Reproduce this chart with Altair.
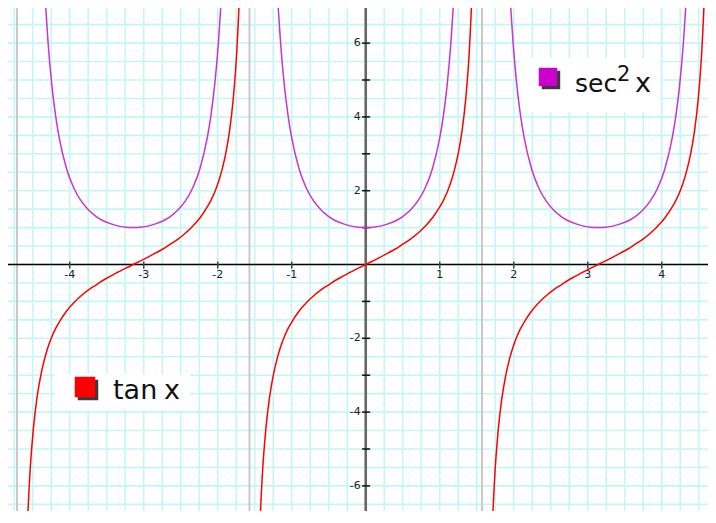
import altair as alt
import pandas as pd
import numpy as np

# ---- values ----
# tan x on one branch, offsets from branch centre
tan_offsets = [-1.45, -1.43, -1.40, -1.35, -1.30, -1.25, -1.20, -1.15, -1.10, -1.05, -1.00,
               -0.90, -0.80, -0.70, -0.60, -0.50, -0.40, -0.30, -0.20, -0.10, 0.00,
               0.10, 0.20, 0.30, 0.40, 0.50, 0.60, 0.70, 0.80, 0.90,
               1.00, 1.05, 1.10, 1.15, 1.20, 1.25, 1.30, 1.35, 1.40, 1.43, 1.45]
tan_values = [-8.24, -7.07, -5.80, -4.46, -3.60, -3.01, -2.57, -2.23, -1.96, -1.74, -1.56,
              -1.26, -1.03, -0.84, -0.68, -0.55, -0.42, -0.31, -0.20, -0.10, 0.00,
              0.10, 0.20, 0.31, 0.42, 0.55, 0.68, 0.84, 1.03, 1.26,
              1.56, 1.74, 1.96, 2.23, 2.57, 3.01, 3.60, 4.46, 5.80, 7.07, 8.24]
# sec^2 x on one branch
sec_offsets = [-1.22, -1.20, -1.18, -1.15, -1.10, -1.05, -1.00, -0.90, -0.80, -0.70, -0.60,
               -0.50, -0.40, -0.30, -0.20, -0.10, 0.00, 0.10, 0.20, 0.30, 0.40, 0.50,
               0.60, 0.70, 0.80, 0.90, 1.00, 1.05, 1.10, 1.15, 1.18, 1.20, 1.22]
sec_values = [8.47, 7.62, 6.89, 5.99, 4.86, 4.04, 3.43, 2.59, 2.06, 1.71, 1.47,
              1.30, 1.18, 1.10, 1.04, 1.01, 1.00, 1.01, 1.04, 1.10, 1.18, 1.30,
              1.47, 1.71, 2.06, 2.59, 3.43, 4.04, 4.86, 5.99, 6.89, 7.62, 8.47]
branch_centres = [-3.1416, 0.0, 3.1416]
asymptotes = [-4.7124, -1.5708, 1.5708, 4.7124]
x_ticks = [-4, -3, -2, -1, 1, 2, 3, 4]
y_ticks = [-6, -5, -4, -3, -2, -1, 1, 2, 3, 4, 5, 6]
y_labels = [-6, -4, -2, 2, 4, 6]
x_grid = [round(float(v), 2) for v in np.arange(-4.75, 4.751, 0.25)]
y_grid = [round(float(v), 2) for v in np.arange(-6.5, 7.01, 0.5)]

rows = []
for b, c in enumerate(branch_centres):
    for o, v in zip(tan_offsets, tan_values):
        rows.append({"x": c + o, "y": v, "branch": b, "f": "tan"})
    for o, v in zip(sec_offsets, sec_values):
        rows.append({"x": c + o, "y": v, "branch": b, "f": "sec"})
curves = pd.DataFrame(rows)

W, H = 700, 503
XMIN, XMAX = -4.834, 4.625
YMIN, YMAX = -6.680, 6.951

xs = alt.Scale(domain=[XMIN, XMAX], nice=False, zero=False)
ys = alt.Scale(domain=[YMIN, YMAX], nice=False, zero=False)
GRID = "#c4f6f8"

gx = alt.Chart(pd.DataFrame({"x": x_grid})).mark_rule(color=GRID, strokeWidth=1.6, clip=True).encode(
    x=alt.X("x:Q", scale=xs, axis=None), y=alt.value(0), y2=alt.value(H))
gy = alt.Chart(pd.DataFrame({"y": y_grid})).mark_rule(color=GRID, strokeWidth=1.6, clip=True).encode(
    y=alt.Y("y:Q", scale=ys, axis=None), x=alt.value(0), x2=alt.value(W))

asy = alt.Chart(pd.DataFrame({"x": asymptotes})).mark_rule(color="#c8c8c8", strokeWidth=2, clip=True).encode(
    x="x:Q", y=alt.value(0), y2=alt.value(H))

one = pd.DataFrame({"a": [0]})
boxes = alt.Chart(pd.DataFrame({"x": [512, 47], "x2": [652, 182], "y": [50, 366], "y2": [104, 402]})).mark_rect(
    color="white").encode(x=alt.X("x:Q", scale=None), x2="x2:Q", y=alt.Y("y:Q", scale=None), y2="y2:Q")

xaxis = alt.Chart(one).mark_rule(color="#000000", strokeWidth=1.5).encode(
    y=alt.datum(0), x=alt.value(0), x2=alt.value(W))
yaxis = alt.Chart(one).mark_rule(color="#666666", strokeWidth=2.6).encode(
    x=alt.datum(0), y=alt.value(0), y2=alt.value(H))

xt = alt.Chart(pd.DataFrame({"x": x_ticks})).mark_rule(color="#444444", strokeWidth=1.5).encode(
    x="x:Q", y=alt.datum(-0.11), y2=alt.datum(0.08))
yt = alt.Chart(pd.DataFrame({"y": y_ticks})).mark_rule(color="#111111", strokeWidth=1.5).encode(
    y="y:Q", x=alt.datum(-0.05), x2=alt.datum(0.06))

xl = alt.Chart(pd.DataFrame({"x": x_ticks, "t": [str(v) for v in x_ticks]})).mark_text(
    font="DejaVu Sans", fontSize=11, color="#222222", baseline="middle", align="center", dy=10
).encode(x="x:Q", y=alt.datum(0), text="t:N")
yl = alt.Chart(pd.DataFrame({"y": y_labels, "t": [str(v) for v in y_labels]})).mark_text(
    font="DejaVu Sans", fontSize=11, color="#222222", baseline="middle", align="right", dx=-5
).encode(y="y:Q", x=alt.datum(0), text="t:N")

lines = alt.Chart(curves).mark_line(strokeWidth=1.5, interpolate="monotone", clip=True).encode(
    x="x:Q", y="y:Q", detail="branch:N",
    color=alt.Color("f:N", scale=alt.Scale(domain=["tan", "sec"], range=["#ff0000", "#cc33cc"]), legend=None),
)

def square(cx, cy, size, color):
    sh = alt.Chart(one).mark_square(size=size, color="#3a3a3a", opacity=1, xOffset=3, yOffset=3).encode(
        x=alt.value(cx), y=alt.value(cy))
    sq = alt.Chart(one).mark_square(size=size, color=color, opacity=1).encode(
        x=alt.value(cx), y=alt.value(cy))
    return sh + sq

def txt(s, px, py, size):
    return alt.Chart(one).mark_text(text=s, font="DejaVu Sans", fontSize=size, color="#111111",
                                    align="left", baseline="alphabetic").encode(
        x=alt.value(px), y=alt.value(py))

legend = (square(540, 69, 340, "#cc00cc") + txt("sec", 567, 84, 25) + txt("2", 609, 73, 21) +
          txt("x", 627, 84, 27) +
          square(77, 379, 420, "#ff0000") + txt("tan", 105, 391, 27) + txt("x", 156, 391, 27))

chart = alt.layer(gx, gy, asy, boxes, xaxis, yaxis, xt, yt, xl, yl, lines, legend).resolve_scale(
    x="shared", y="shared").properties(
    width=W, height=H, padding=0, autosize=alt.AutoSizeParams(type="none"),
    background="#ffffff",
).configure_view(stroke=None, fill="white")

chart.save("out.html", embed_options={"renderer": "svg", "actions": False})
